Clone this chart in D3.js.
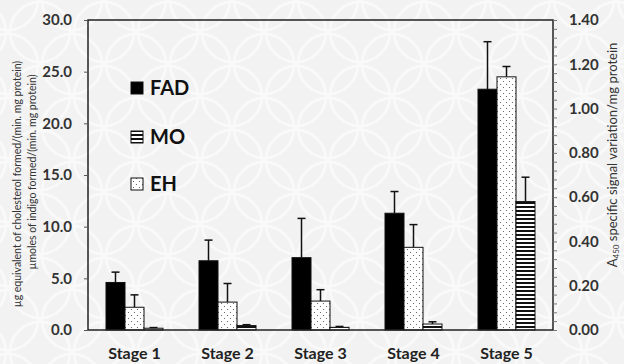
<!DOCTYPE html>
<html>
<head>
<meta charset="utf-8">
<script src="https://cdn.jsdelivr.net/npm/d3@7"></script>
<style>
  body { margin: 0; background: #f3f3f3; }
  svg { display: block; font-family: Lato, "Open Sans", sans-serif; }
</style>
</head>
<body>
<div id="chart"></div>
<script>
// data
const stages = ['Stage 1', 'Stage 2', 'Stage 3', 'Stage 4', 'Stage 5']
const fad = [4.6, 6.7, 7.0, 11.3, 23.3]
const fadErr = [1.0, 2.0, 3.8, 2.1, 4.6]
const eh = [2.2, 2.7, 2.8, 8.0, 24.5]
const ehErr = [1.2, 1.8, 1.1, 2.2, 1.0]
// MO is read on the right axis
const mo = [0.008, 0.02, 0.012, 0.027, 0.58]
const moErr = [0.003, 0.004, 0.004, 0.01, 0.11]
const leftTicks = [0, 5, 10, 15, 20, 25, 30]
const rightTicks = [0, 0.2, 0.4, 0.6, 0.8, 1.0, 1.2, 1.4]
const legendNames = ['FAD', 'MO', 'EH']

const width = 624
const height = 364
const margin = { top: 20, right: 71, bottom: 34, left: 88 }
const innerWidth = width - margin.left - margin.right
const innerHeight = height - margin.top - margin.bottom

const svg = d3.select('#chart')
  .append('svg')
  .attr('width', width)
  .attr('height', height)

const defs = svg.append('defs')

// background lattice, kept faint
const bg = defs.append('pattern')
  .attr('id', 'bg')
  .attr('width', 64)
  .attr('height', 64)
  .attr('patternUnits', 'userSpaceOnUse')
  .attr('x', 8)
  .attr('y', 0)
bg.append('rect').attr('width', 64).attr('height', 64).attr('fill', '#f2f2f2')
const arcs = [[0, 0], [64, 0], [0, 64], [64, 64], [32, 32]]
bg.selectAll('circle')
  .data(arcs)
  .enter()
  .append('circle')
  .attr('cx', d => d[0])
  .attr('cy', d => d[1])
  .attr('r', 30)
  .attr('fill', 'none')
  .attr('stroke', '#f9f9f9')
  .attr('stroke-width', 3)

// dotted fill for EH
const dots = defs.append('pattern')
  .attr('id', 'dots')
  .attr('width', 6)
  .attr('height', 6)
  .attr('patternUnits', 'userSpaceOnUse')
dots.append('rect').attr('width', 6).attr('height', 6).attr('fill', '#fff')
dots.append('circle').attr('cx', 1.5).attr('cy', 1.5).attr('r', 0.6).attr('fill', '#555')
dots.append('circle').attr('cx', 4.5).attr('cy', 4.5).attr('r', 0.6).attr('fill', '#555')

// horizontal stripes for MO
const stripes = defs.append('pattern')
  .attr('id', 'stripes')
  .attr('width', 4)
  .attr('height', 4)
  .attr('patternUnits', 'userSpaceOnUse')
stripes.append('rect').attr('width', 4).attr('height', 4).attr('fill', '#fff')
stripes.append('rect').attr('y', 2).attr('width', 4).attr('height', 2).attr('fill', '#111')

svg.append('rect')
  .attr('width', width)
  .attr('height', height)
  .attr('fill', 'url(#bg)')

const main = svg.append('g')
  .attr('transform', `translate(${margin.left}, ${margin.top})`)

const xScale = d3.scaleBand()
  .domain(stages)
  .range([0, innerWidth])

const yLeft = d3.scaleLinear()
  .domain([0, 30])
  .range([innerHeight, 0])

const yRight = d3.scaleLinear()
  .domain([0, 1.4])
  .range([innerHeight, 0])

const barW = 19

const series = [
  { name: 'FAD', vals: fad, err: fadErr, scale: yLeft, fill: '#000', offset: -1.5 },
  { name: 'EH', vals: eh, err: ehErr, scale: yLeft, fill: 'url(#dots)', offset: -0.5 },
  { name: 'MO', vals: mo, err: moErr, scale: yRight, fill: 'url(#stripes)', offset: 0.5 }
]

series.forEach(s => {
  const g = main.append('g')
  const cx = (d, i) => xScale(stages[i]) + xScale.bandwidth() / 2 + s.offset * barW

  // error bars (upward only)
  g.selectAll('line.err')
    .data(s.vals)
    .enter()
    .append('line')
    .attr('x1', (d, i) => cx(d, i) + barW / 2)
    .attr('x2', (d, i) => cx(d, i) + barW / 2)
    .attr('y1', d => s.scale(d))
    .attr('y2', (d, i) => s.scale(d + s.err[i]))
    .attr('stroke', '#111')
    .attr('stroke-width', 1.5)

  g.selectAll('line.cap')
    .data(s.vals)
    .enter()
    .append('line')
    .attr('x1', (d, i) => cx(d, i) + barW / 2 - 4)
    .attr('x2', (d, i) => cx(d, i) + barW / 2 + 4)
    .attr('y1', (d, i) => s.scale(d + s.err[i]))
    .attr('y2', (d, i) => s.scale(d + s.err[i]))
    .attr('stroke', '#111')
    .attr('stroke-width', 1.5)

  g.selectAll('rect')
    .data(s.vals)
    .enter()
    .append('rect')
    .attr('x', (d, i) => cx(d, i))
    .attr('y', d => s.scale(d))
    .attr('width', barW)
    .attr('height', d => innerHeight - s.scale(d))
    .attr('fill', s.fill)
    .attr('stroke', '#111')
    .attr('stroke-width', 1)
})

// frame
main.append('rect')
  .attr('width', innerWidth)
  .attr('height', innerHeight)
  .attr('fill', 'none')
  .attr('stroke', '#222')
  .attr('stroke-width', 1.5)

// left axis
const leftAxis = main.append('g')
  .call(d3.axisLeft(yLeft).tickValues(leftTicks).tickSize(4).tickPadding(12).tickFormat(d3.format('.1f')))
leftAxis.select('.domain').remove()
leftAxis.selectAll('line').attr('stroke', '#555')
leftAxis.selectAll('text')
  .attr('font-size', 15)
  .attr('font-weight', 'bold')
  .attr('fill', '#333')
  .attr('font-family', 'Lato, sans-serif')

// right axis minor ticks every 0.04
const rightAxis = main.append('g')
  .attr('transform', `translate(${innerWidth}, 0)`)
rightAxis.call(d3.axisRight(yRight).tickValues(d3.range(0, 36).map(i => i * 0.04)).tickSize(4).tickFormat(''))
rightAxis.select('.domain').remove()
rightAxis.selectAll('line').attr('stroke', '#777')

const rightLabels = main.append('g')
  .attr('transform', `translate(${innerWidth}, 0)`)
  .call(d3.axisRight(yRight).tickValues(rightTicks).tickSize(0).tickPadding(16).tickFormat(d3.format('.2f')))
rightLabels.select('.domain').remove()
rightLabels.selectAll('text')
  .attr('font-size', 15)
  .attr('font-weight', 'bold')
  .attr('fill', '#333')
  .attr('font-family', 'Lato, sans-serif')

// stage labels
main.append('g')
  .selectAll('text')
  .data(stages)
  .enter()
  .append('text')
  .attr('x', d => xScale(d) + xScale.bandwidth() / 2)
  .attr('y', innerHeight + 29)
  .attr('text-anchor', 'middle')
  .attr('font-size', 16)
  .attr('font-weight', 'bold')
  .attr('fill', '#222')
  .text(d => d)

// legend
const legendFills = ['#000', 'url(#stripes)', 'url(#dots)']
const legendY = [88, 137, 184]
const legend = svg.append('g')
legend.selectAll('rect')
  .data(legendNames)
  .enter()
  .append('rect')
  .attr('x', 131)
  .attr('y', (d, i) => legendY[i] - 6)
  .attr('width', 12)
  .attr('height', 12)
  .attr('fill', (d, i) => legendFills[i])
  .attr('stroke', '#111')
  .attr('stroke-width', 1)
legend.selectAll('text')
  .data(legendNames)
  .enter()
  .append('text')
  .attr('x', 150)
  .attr('y', (d, i) => legendY[i])
  .attr('dy', '0.36em')
  .attr('font-size', 20)
  .attr('font-weight', 'bold')
  .attr('fill', '#111')
  .text(d => d)

// axis titles
svg.append('text')
  .attr('transform', 'translate(21, 184) rotate(-90)')
  .attr('text-anchor', 'middle')
  .attr('font-size', 10.5)
  .attr('fill', '#333')
  .text('µg equivalent of cholesterol formed/(min. mg protein)')

svg.append('text')
  .attr('transform', 'translate(36, 172) rotate(-90)')
  .attr('text-anchor', 'middle')
  .attr('font-size', 10.5)
  .attr('fill', '#333')
  .text('µmoles of indigo formed/(min. mg protein)')

const rt = svg.append('text')
  .attr('transform', 'translate(617, 155) rotate(-90)')
  .attr('text-anchor', 'middle')
  .attr('font-size', 13)
  .attr('fill', '#333')
rt.append('tspan').text('A')
rt.append('tspan').attr('font-size', 8).attr('dy', 2).text('450')
rt.append('tspan').attr('dy', -2).text(' specific signal variation/mg protein')
</script>
</body>
</html>
